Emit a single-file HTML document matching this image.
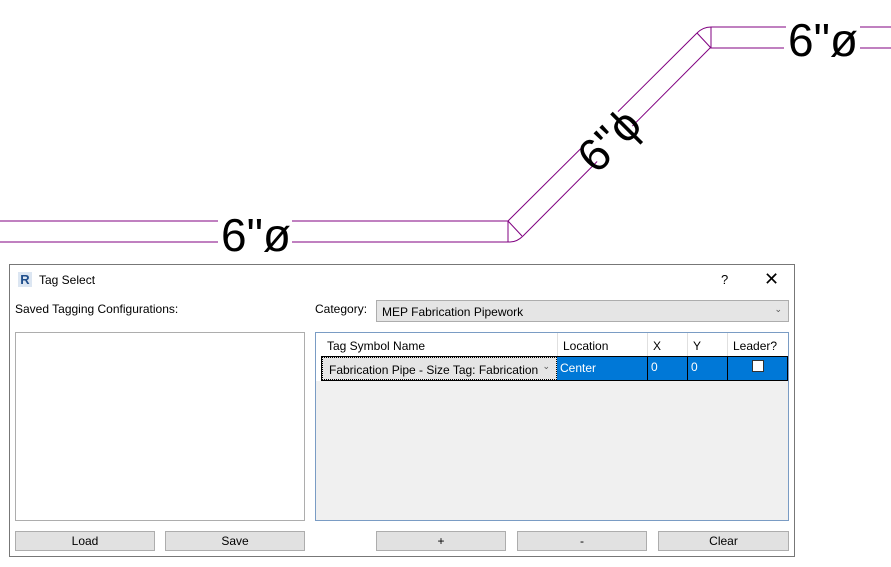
<!DOCTYPE html>
<html><head><meta charset="utf-8"><style>
body{margin:0;width:891px;height:567px;background:#fff;position:relative;overflow:hidden;font-family:"Liberation Sans",sans-serif;font-size:12px;color:#000}
.a{position:absolute;box-sizing:border-box}
.btn{background:#e1e1e1;border:1px solid #adadad;text-align:center;line-height:18px}
</style></head><body>
<svg class="a" style="left:0;top:0" width="891" height="264">
<g stroke="#800080" stroke-width="1" fill="none">
<path d="M0 221H218M292 221H508L697 33"/>
<path d="M0 242H218M292 242H510Q517 242 523 236L710 48H784M860 48H891"/>
<path d="M697 33Q703 27 711 27H786M860 27H891"/>
<line x1="508" y1="221" x2="508" y2="242"/><line x1="508" y1="221" x2="522" y2="236"/>
<line x1="711" y1="27" x2="711" y2="48"/><line x1="697" y1="33" x2="711" y2="48"/>
</g>
<g fill="#fff"><rect x="584" y="98" width="50" height="80" transform="rotate(-45 609 138)"/></g>
<text x="256" y="251" font-family="Liberation Sans" font-size="46" text-anchor="middle">6"ø</text>
<text x="823" y="56" font-family="Liberation Sans" font-size="46" text-anchor="middle">6"ø</text>
<text x="609" y="156" font-family="Liberation Sans" font-size="46" text-anchor="middle" transform="rotate(-45 609 140)">6"ϕ</text>
</svg>
<div class="a" style="left:9px;top:264px;width:786px;height:293px;border:1px solid #777;background:#fff"></div>
<div class="a" style="left:18px;top:272px;width:14px;height:15px;background:#dce6f2;color:#1f4e8c;font-weight:bold;font-size:13px;line-height:15px;text-align:center">R</div>
<div class="a" style="left:39px;top:273px">Tag Select</div>
<div class="a" style="left:721px;top:272px;font-size:13px">?</div>
<div class="a" style="left:764px;top:269px;font-size:18px">✕</div>
<div class="a" style="left:15px;top:302px">Saved Tagging Configurations:</div>
<div class="a" style="left:315px;top:302px">Category:</div>
<div class="a" style="left:376px;top:300px;width:413px;height:22px;background:#e5e5e5;border:1px solid #adadad;padding:4px 5px">MEP Fabrication Pipework<span style="position:absolute;right:6px;top:3px;font-size:9px;color:#555">⌄</span></div>
<div class="a" style="left:15px;top:332px;width:290px;height:189px;border:1px solid #adadad;background:#fff"></div>
<div class="a" style="left:315px;top:332px;width:474px;height:189px;border:1px solid #7a9cc4;background:#f0f0f0"></div>
<div class="a" style="left:316px;top:333px;width:472px;height:23px;background:#fff"></div>
<div class="a" style="left:327px;top:339px">Tag Symbol Name</div>
<div class="a" style="left:557px;top:333px;width:1px;height:23px;background:#e0e0e0"></div>
<div class="a" style="left:563px;top:339px">Location</div>
<div class="a" style="left:647px;top:333px;width:1px;height:23px;background:#e0e0e0"></div>
<div class="a" style="left:653px;top:339px">X</div>
<div class="a" style="left:687px;top:333px;width:1px;height:23px;background:#e0e0e0"></div>
<div class="a" style="left:693px;top:339px">Y</div>
<div class="a" style="left:727px;top:333px;width:1px;height:23px;background:#e0e0e0"></div>
<div class="a" style="left:733px;top:339px">Leader?</div>
<div class="a" style="left:316px;top:356px;width:5px;height:25px;background:#fff"></div>
<div class="a" style="left:321px;top:356px;width:467px;height:25px;background:#0078d7;border:1px solid #000"></div>
<div class="a" style="left:322px;top:357px;width:235px;height:23px;background:#e5e5e5;border:1px dotted #000;padding:5px 6px">Fabrication Pipe - Size Tag: Fabrication<span style="position:absolute;right:6px;top:3px;font-size:9px;color:#555">⌄</span></div>
<div class="a" style="left:560px;top:361px;color:#fff">Center</div>
<div class="a" style="left:647px;top:357px;width:1px;height:24px;background:#000"></div>
<div class="a" style="left:651px;top:360px;color:#fff">0</div>
<div class="a" style="left:687px;top:357px;width:1px;height:24px;background:#000"></div>
<div class="a" style="left:691px;top:360px;color:#fff">0</div>
<div class="a" style="left:727px;top:357px;width:1px;height:24px;background:#000"></div>
<div class="a" style="left:752px;top:360px;width:12px;height:12px;background:#fff;border:1px solid #333"></div>
<div class="a btn" style="left:15px;top:531px;width:140px;height:20px">Load</div>
<div class="a btn" style="left:165px;top:531px;width:140px;height:20px">Save</div>
<div class="a btn" style="left:376px;top:531px;width:130px;height:20px">+</div>
<div class="a btn" style="left:517px;top:531px;width:130px;height:20px">-</div>
<div class="a btn" style="left:658px;top:531px;width:131px;height:20px">Clear</div>
</body></html>
